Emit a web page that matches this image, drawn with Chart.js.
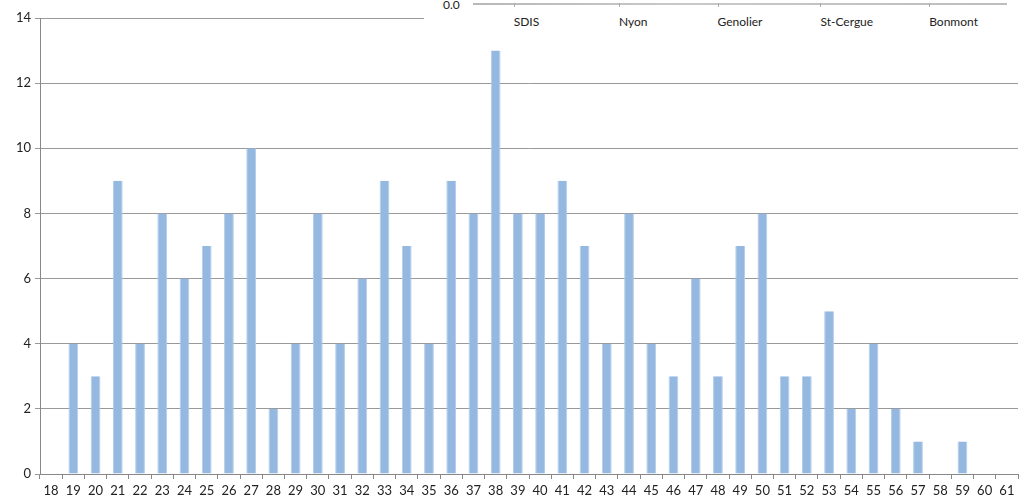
<!DOCTYPE html>
<html>
<head>
<meta charset="utf-8">
<script src="https://cdn.jsdelivr.net/npm/chart.js@4.4.1/dist/chart.umd.min.js"></script>
<style>
  html, body { margin: 0; padding: 0; background: #fff; }
  #wrap { position: relative; width: 1019px; height: 502px; }
  #overlay {
    position: absolute; left: 424px; top: 0; width: 595px; height: 36px;
    background: #fff; font-family: Lato, "Liberation Sans", sans-serif; font-size: 12px; color: #222;
  }
  #ov-zero { position: absolute; left: 19px; top: -3px; }
  #ov-axis {
    position: absolute; left: 49px; top: 3px; width: 534px; height: 2px;
    background: linear-gradient(90deg, #b8b8b8, #c9c9c9 40%, #bdbdbd);
  }
  #ov-labels { position: absolute; left: 49px; top: 14px; width: 534px; display: flex; }
  #ov-labels span { flex: 1; text-align: center; }
  #ov-labels span::before {
    content: ""; position: absolute; margin-top: -11px; width: 1px; height: 4px; background: #aaa;
  }
</style>
</head>
<body>
<div id="wrap">
  <canvas id="chart" width="1019" height="502"></canvas>
  <div id="overlay">
    <div id="ov-zero">0.0</div>
    <div id="ov-axis"></div>
    <div id="ov-labels"></div>
  </div>
</div>
<script>
const ages = [];
for (let a = 18; a <= 61; a++) ages.push(String(a));
const counts = [0, 4, 3, 9, 4, 8, 6, 7, 8, 10, 2, 4, 8, 4, 6, 9, 7, 4, 9, 8, 13, 8, 8, 9, 7, 4, 8, 4, 3, 6, 3, 7, 8, 3, 3, 5, 2, 4, 2, 1, 0, 1, 0, 0];
const overlayLabels = ["SDIS", "Nyon", "Genolier", "St-Cergue", "Bonmont"];

document.getElementById("ov-labels").innerHTML = overlayLabels.map((l) => `<span>${l}</span>`).join("");

const font = { family: "Lato, 'Liberation Sans', sans-serif", size: 13 };

new Chart(document.getElementById("chart").getContext("2d"), {
  type: "bar",
  data: {
    labels: ages,
    datasets: [{
      data: counts,
      backgroundColor: "#95b8e0",
      borderColor: "#b3cdea",
      borderWidth: { left: 1, right: 1, top: 0, bottom: 0 },
      categoryPercentage: 1,
      barPercentage: 0.44,
    }],
  },
  options: {
    responsive: false,
    animation: false,
    layout: { padding: { top: 18, right: 1, left: 0, bottom: 0 } },
    plugins: { legend: { display: false }, tooltip: { enabled: false } },
    scales: {
      x: {
        grid: { drawOnChartArea: false, drawTicks: true, tickLength: 5, color: "#888" },
        border: { color: "#888" },
        ticks: { color: "#222", font, maxRotation: 0, autoSkip: false, padding: 4 },
        afterFit: (s) => { s.height = 28; },
      },
      y: {
        min: 0,
        max: 14,
        grid: { color: "#999", tickLength: 5 },
        border: { color: "#888" },
        ticks: { stepSize: 2, color: "#222", font, padding: 4 },
        afterFit: (s) => { s.width = 40; },
      },
    },
  },
});
</script>
</body>
</html>
